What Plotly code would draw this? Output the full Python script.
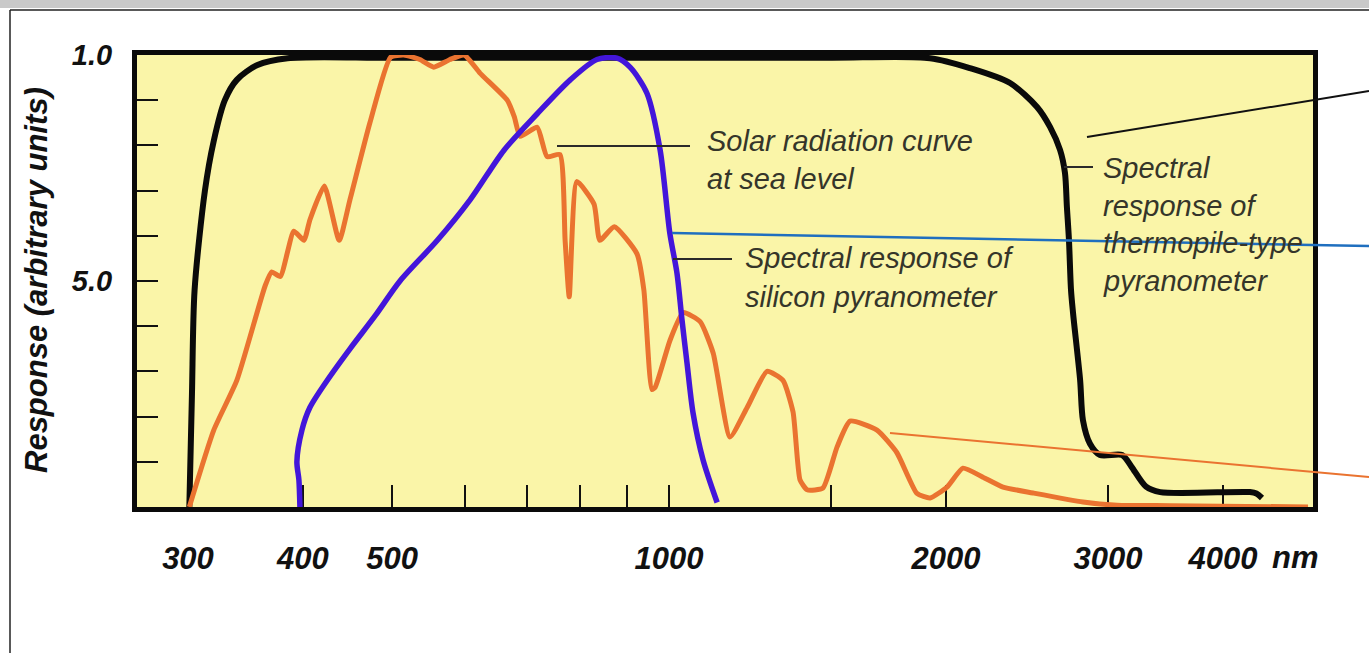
import plotly.graph_objects as go

# Wavelength (nm) and relative response
thermo_nm = [301, 303, 305, 313, 320, 329, 339, 357, 385, 500, 1000, 1500, 1922, 2124, 2348,
             2512, 2595, 2661, 2694, 2707, 2721, 2735, 2749, 2798, 2818, 2868, 2941, 3108,
             3180, 3300, 3419, 4280, 4350, 4411]
thermo_val = [0, 0.25, 0.48, 0.70, 0.81, 0.90, 0.945, 0.978, 0.993, 0.994, 0.994, 0.994, 0.993,
              0.971, 0.938, 0.885, 0.841, 0.79, 0.739, 0.664, 0.591, 0.48, 0.429, 0.281, 0.192,
              0.14, 0.115, 0.115, 0.09, 0.045, 0.033, 0.033, 0.03, 0.02]

silicon_nm = [397, 396, 394, 399, 407, 425, 450, 480, 510, 560, 608, 662, 719, 781, 835, 878,
              907, 946, 978, 1002, 1020, 1033, 1046, 1062, 1089, 1128]
silicon_val = [0, 0.06, 0.10, 0.17, 0.22, 0.28, 0.35, 0.425, 0.50, 0.59, 0.68, 0.79, 0.87, 0.945,
               0.99, 0.993, 0.973, 0.916, 0.79, 0.606, 0.518, 0.414, 0.319, 0.208, 0.104, 0.01]

solar_nm = [301, 320, 339, 364, 370, 378, 391, 401, 407, 422, 438, 450, 473, 498, 515, 536, 555,
            578, 599, 623, 667, 679, 689, 719, 737, 761, 771, 779, 794, 829, 841, 872, 923, 939,
            958, 966, 1003, 1036, 1081, 1117, 1165, 1216, 1278, 1330, 1364, 1388, 1413, 1470,
            1523, 1573, 1683, 1769, 1860, 1922, 2005, 2087, 2194, 2307, 2487, 2818, 3069, 3505,
            4950]
solar_val = [0, 0.17, 0.28, 0.49, 0.52, 0.51, 0.61, 0.59, 0.635, 0.71, 0.59, 0.68, 0.85, 0.995,
             1.0, 0.99, 0.973, 0.99, 1.0, 0.96, 0.90, 0.863, 0.82, 0.84, 0.775, 0.78, 0.59, 0.465,
             0.72, 0.67, 0.59, 0.62, 0.56, 0.48, 0.26, 0.265, 0.37, 0.43, 0.41, 0.34, 0.155, 0.22,
             0.30, 0.28, 0.21, 0.06, 0.038, 0.042, 0.133, 0.19, 0.17, 0.12, 0.03, 0.02, 0.044,
             0.086, 0.066, 0.044, 0.031, 0.011, 0.004, 0.003, 0.0]

x_tickvals = [300, 400, 500, 600, 700, 800, 900, 1000, 1500, 2000, 3000, 4000]
x_ticktext = ['300', '400', '500', '', '', '', '', '1000', '', '2000', '3000', '4000']
y_tickvals = [0, 0.1, 0.2, 0.3, 0.4, 0.5, 0.6, 0.7, 0.8, 0.9, 1.0]
y_ticktext = ['', '', '', '', '', '5.0', '', '', '', '', '1.0']

FONT = 'Liberation Sans, Arial, sans-serif'
TEXT_GREY = '#35352a'
ORANGE = '#EA7330'
BLUE = '#4316DA'


# pixel position in the 1369x653 page -> paper coordinates
def px(x):
    return (x - 137) / 1176


def py(y):
    return (507 - y) / 452


fig = go.Figure()

fig.add_trace(go.Scatter(x=thermo_nm, y=thermo_val, mode='lines',
                         line=dict(color='#0a0a0a', width=6, shape='spline', smoothing=0.8)))
fig.add_trace(go.Scatter(x=solar_nm, y=solar_val, mode='lines',
                         line=dict(color=ORANGE, width=5, shape='spline', smoothing=0.5)))
fig.add_trace(go.Scatter(x=silicon_nm, y=silicon_val, mode='lines',
                         line=dict(color=BLUE, width=5.5, shape='spline', smoothing=0.8)))

shapes = []
# leader lines next to the captions
for x0, x1, y in [(557, 690, 146), (673, 732, 259), (1064, 1093, 167)]:
    shapes.append(dict(type='line', xref='paper', yref='paper', x0=px(x0), x1=px(x1),
                       y0=py(y), y1=py(y), line=dict(color='#2a2a2a', width=2)))
# pointer lines running off the right edge
for (x0, y0, x1, y1, c, w) in [(1087, 137, 1369, 91, '#111111', 2),
                               (672, 233, 1369, 246, '#1F6FBF', 2.5),
                               (890, 433, 1369, 477, ORANGE, 2)]:
    shapes.append(dict(type='line', xref='paper', yref='paper', x0=px(x0), x1=px(x1),
                       y0=py(y0), y1=py(y1), line=dict(color=c, width=w)))
# outer frame of the original image
shapes.append(dict(type='rect', xref='paper', yref='paper', x0=px(0), x1=px(1369),
                   y0=py(0), y1=py(8), fillcolor='#c9c9c9', line=dict(width=0), layer='below'))
shapes.append(dict(type='line', xref='paper', yref='paper', x0=px(10), x1=px(1369),
                   y0=py(10), y1=py(10), line=dict(color='#222222', width=1.5)))
shapes.append(dict(type='line', xref='paper', yref='paper', x0=px(10), x1=px(10),
                   y0=py(10), y1=py(653), line=dict(color='#222222', width=1.5)))

annotations = []
captions = [
    (705, [(141, 'Solar radiation curve'), (179, 'at sea level')]),
    (743, [(258, 'Spectral response of'), (297, 'silicon pyranometer')]),
    (1101, [(168, 'Spectral'), (206, 'response of'), (243, 'thermopile-type'), (281, 'pyranometer')]),
]
for x, lines in captions:
    for y, t in lines:
        annotations.append(dict(xref='paper', yref='paper', x=px(x), y=py(y), text=t,
                                showarrow=False, xanchor='left', yanchor='middle',
                                font=dict(family=FONT, size=29, color=TEXT_GREY, style='italic')))

annotations.append(dict(xref='paper', yref='paper', x=px(36), y=py(280), textangle=-90,
                        text='Response (arbitrary units)', showarrow=False,
                        xanchor='center', yanchor='middle',
                        font=dict(family=FONT, size=31, color='#111111', style='italic', weight='bold')))
annotations.append(dict(xref='paper', yref='paper', x=px(1270), y=py(557), xanchor='left',
                        yanchor='middle', text='nm', showarrow=False,
                        font=dict(family=FONT, size=31, color='#111111', style='italic', weight='bold')))
fig.update_layout(
    width=1369, height=653,
    margin=dict(l=137, r=56, t=55, b=146),
    paper_bgcolor='white',
    plot_bgcolor='#FAF5A8',
    showlegend=False,
    shapes=shapes,
    annotations=annotations,
    xaxis=dict(type='log', range=[2.4217, 3.700], tickvals=x_tickvals, ticktext=x_ticktext,
               ticks='inside', ticklen=22, tickwidth=2, tickcolor='#111111',
               showline=True, linewidth=5, linecolor='#0a0a0a', mirror=True,
               showgrid=False, zeroline=False, layer='below traces', ticklabelstandoff=20,
               tickfont=dict(family=FONT, size=31, color='#111111', style='italic', weight='bold')),
    yaxis=dict(range=[0, 1], tickvals=y_tickvals, ticktext=y_ticktext,
               ticks='inside', ticklen=21, tickwidth=2, tickcolor='#111111',
               showline=True, linewidth=5, linecolor='#0a0a0a', mirror=True,
               showgrid=False, zeroline=False, layer='below traces', ticklabelstandoff=14,
               tickfont=dict(family=FONT, size=29, color='#111111', style='italic', weight='bold')),
)

# page body has a default 8px margin; drop it so the figure sits at the window's corner
fig.write_html("out.html", config={'displayModeBar': False},
               post_script="document.body.style.margin='0';")
